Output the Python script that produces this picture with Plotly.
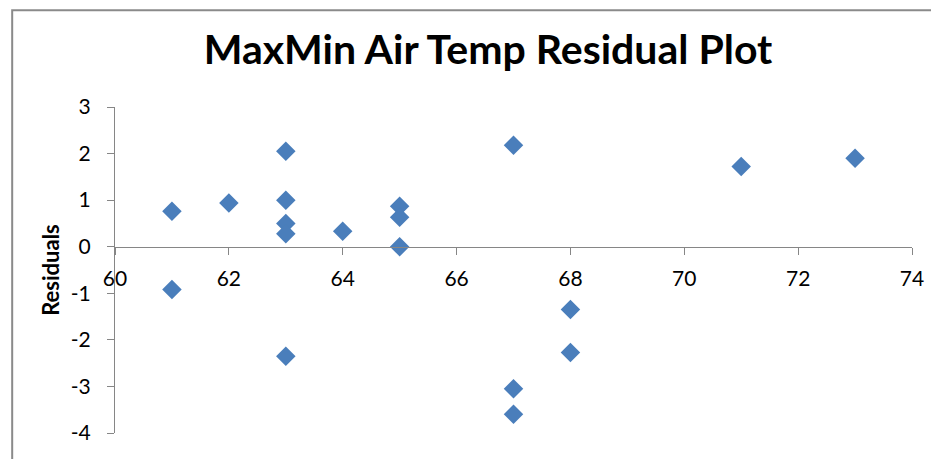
import plotly.graph_objects as go

# Data
max_min_temp = [61, 61, 62, 63, 63, 63, 63, 63, 64, 65, 65, 65, 67, 67, 67, 68, 68, 71, 73]
residuals = [0.76, -0.92, 0.94, 2.05, 1.00, 0.50, 0.28, -2.35, 0.33, 0.87, 0.63, 0.00,
             2.18, -3.05, -3.60, -1.35, -2.27, 1.72, 1.90]
x_tick_values = [60, 62, 64, 66, 68, 70, 72, 74]
x_tick_labels = ["60", "62", "64", "66", "68", "70", "72", "74"]
y_tick_values = [-4, -3, -2, -1, 0, 1, 2, 3]
y_tick_labels = ["-4", "-3", "-2", "-1", "0", "1", "2", "3"]

title_text = "MaxMin Air Temp Residual Plot"
y_title_text = "Residuals"

FONT = "Lato"
AXIS_COLOR = "#868686"
W, H = 931, 451  # page body has an 8px margin

fig = go.Figure()
fig.add_trace(go.Scatter(
    x=max_min_temp, y=residuals, mode="markers",
    marker=dict(symbol="diamond", size=15, color="#4A7EBB",
                line=dict(width=0)),
    showlegend=False,
))

fig.update_layout(
    width=W, height=H,
    paper_bgcolor="white", plot_bgcolor="white",
    margin=dict(l=107, r=27, t=99, b=26, autoexpand=False),
    font=dict(family=FONT, color="black"),
    title=dict(text=title_text, x=480 / W, xanchor="center",
               y=1 - 42 / H, yref="container", yanchor="middle",
               font=dict(family=FONT, size=41, weight="bold", color="black")),
    xaxis=dict(range=[60, 74], tickvals=x_tick_values, ticktext=x_tick_labels,
               anchor="free", position=4 / 7,
               showline=True, linecolor=AXIS_COLOR, linewidth=1,
               ticks="outside", ticklen=7, tickcolor=AXIS_COLOR, tickwidth=1,
               ticklabelstandoff=6,
               showgrid=False, zeroline=False,
               tickfont=dict(family=FONT, size=21, color="black")),
    yaxis=dict(range=[-4, 3], tickvals=y_tick_values, ticktext=y_tick_labels,
               showline=True, linecolor=AXIS_COLOR, linewidth=1,
               ticks="outside", ticklen=7, tickcolor=AXIS_COLOR, tickwidth=1,
               ticklabelstandoff=12,
               showgrid=False, zeroline=False,
               tickfont=dict(family=FONT, size=21, color="black"),
               title=dict(text=y_title_text, standoff=5,
                          font=dict(family=FONT, size=22, weight="bold",
                                    color="black"))),
    shapes=[dict(type="rect", xref="paper", yref="paper",
                 x0=-0.129, x1=1.2, y0=-0.5, y1=1.297,
                 line=dict(color="#8a8a8a", width=2), fillcolor="rgba(0,0,0,0)",
                 layer="below")],
)

fig.write_html("out.html")
